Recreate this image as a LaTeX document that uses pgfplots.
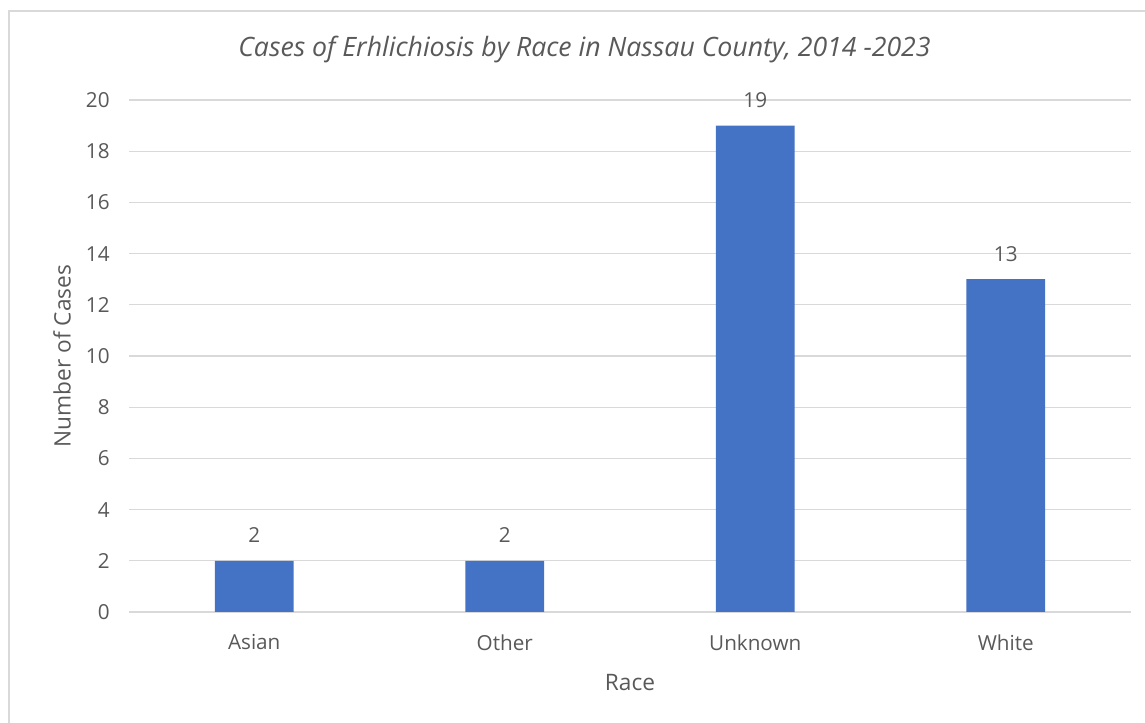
\documentclass[border=0pt]{standalone}
\usepackage{pgfplots}
\pgfplotsset{compat=1.18}
\usepackage{fontspec}
\setmainfont{Open Sans}
\definecolor{barblue}{HTML}{4472C4}
\definecolor{txt}{HTML}{595959}
\definecolor{gridc}{HTML}{D9D9D9}
\begin{document}
\begin{tikzpicture}[x=0.75pt,y=0.75pt]
\path[use as bounding box] (0,0) rectangle (1145,723);
\draw[gridc, line width=1.1pt] (9,-20) rectangle (1170,712);
\begin{axis}[
  at={(96.75pt,83.25pt)}, anchor=south west,
  scale only axis, width=751.5pt, height=384pt,
  xmin=-0.5, xmax=3.5, ymin=0, ymax=20,
  ybar, bar width=58.9pt,
  axis line style={draw=none},
  major tick length=0pt,
  ymajorgrids, grid style={gridc, line width=1pt},
  ytick={0,2,...,20},
  xtick={0,1,2,3},
  xticklabels={Asian,Other,Unknown,White},
  /pgf/number format/assume math mode=true,
  ticklabel style={font=\fontsize{15.5}{17}\selectfont, text=txt},
  yticklabel style={xshift=-11pt},
  xticklabel style={yshift=-13.5pt},
  nodes near coords,
  every node near coord/.append style={font=\fontsize{15.5}{17}\selectfont, text=txt, anchor=base, inner sep=0pt, yshift=13.5pt},
  clip=false,
]
\addplot[fill=barblue, draw=none] coordinates {(0,2) (1,2) (2,19) (3,13)};
\end{axis}
\node[text=txt, font=\fontsize{20}{22}\selectfont\itshape] at (584.5,673) {Cases of Erhlichiosis by Race in Nassau County, 2014 -2023};
\node[text=txt, font=\fontsize{17}{19}\selectfont] at (630,40) {Race};
\node[text=txt, font=\fontsize{17}{19}\selectfont, rotate=90] at (62,367) {Number of Cases};
\end{tikzpicture}
\end{document}
